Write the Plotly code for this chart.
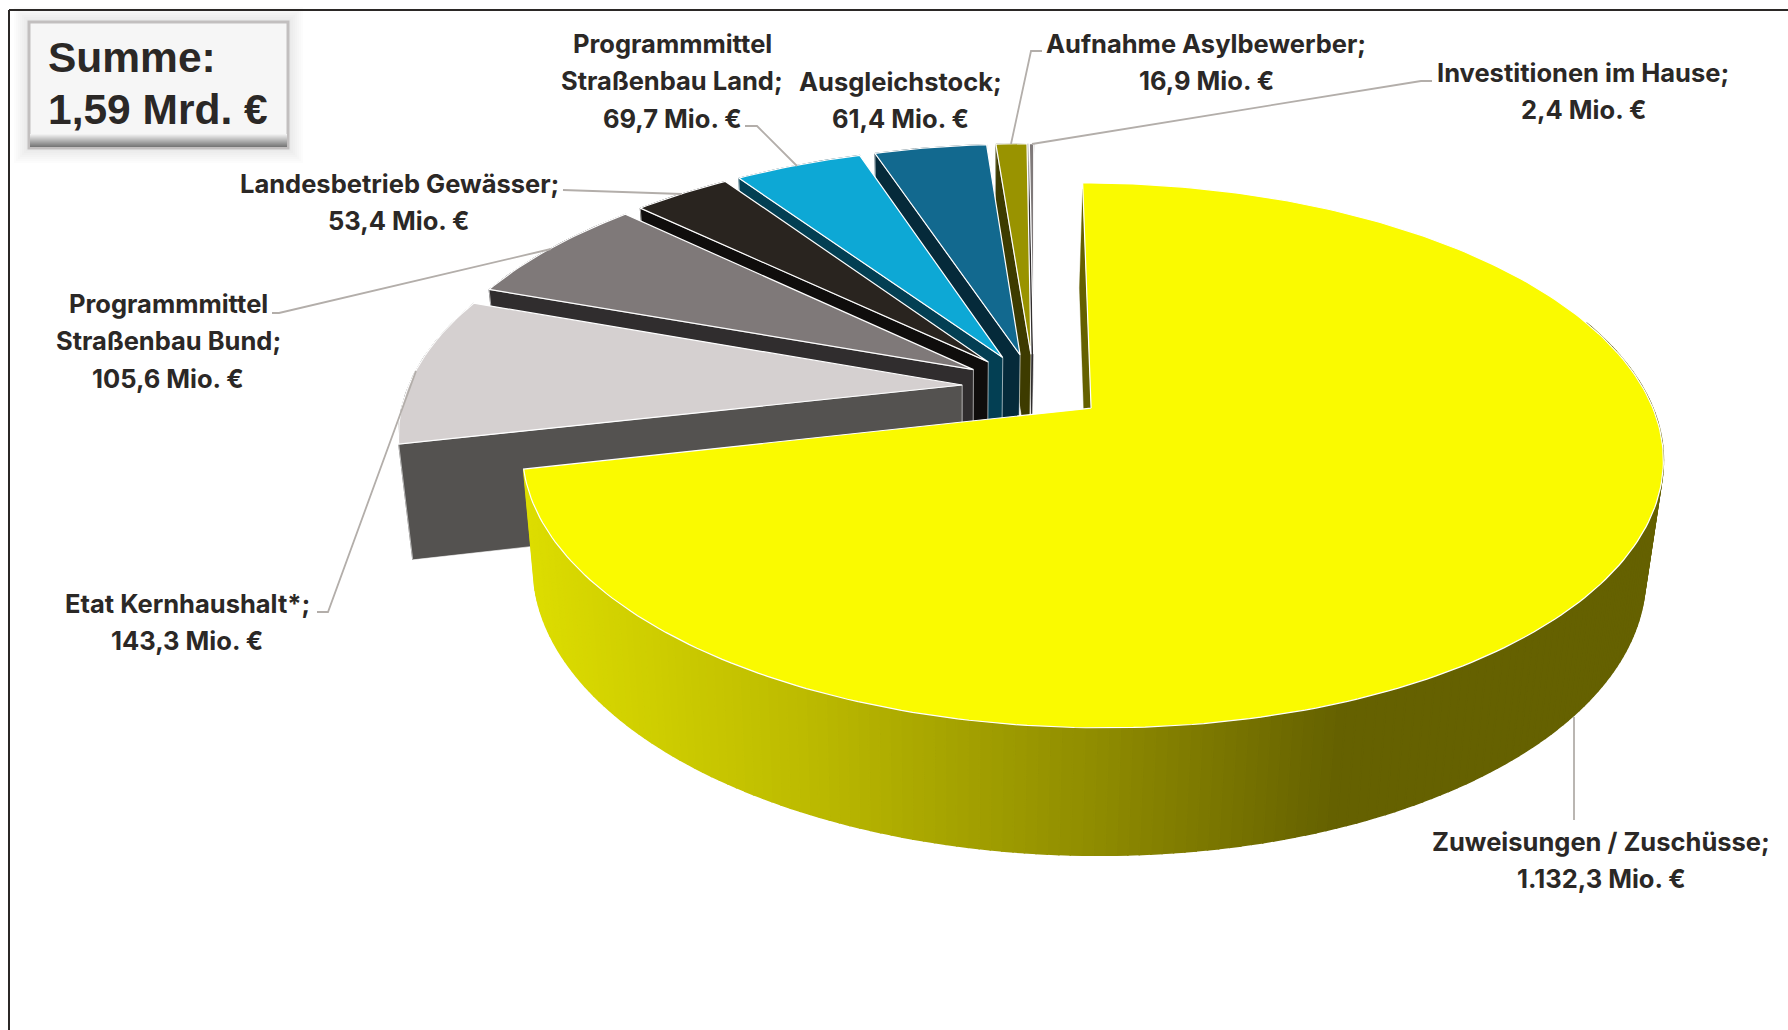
import numpy as np
import plotly.graph_objects as go

# ---- data ----
names = ["Zuweisungen / Zuschüsse", "Etat Kernhaushalt*", "Programmmittel Straßenbau Bund",
         "Landesbetrieb Gewässer", "Programmmittel Straßenbau Land", "Ausgleichstock",
         "Aufnahme Asylbewerber", "Investitionen im Hause"]
values = [1132.3, 143.3, 105.6, 53.4, 69.7, 61.4, 16.9, 2.4]
top_colors = ["#FAFA00", "#D5D0D0", "#7F7979", "#29241F", "#0DA8D5", "#12698F", "#999300", "#7F7979"]
side_colors = ["#646000", "#545250", "#302D2E", "#0F0D0C", "#033F53", "#052A3A", "#3D3B00", "#302D2E"]
label_lines = [["Zuweisungen / Zuschüsse;", "1.132,3 Mio. €"],
               ["Etat Kernhaushalt*;", "143,3 Mio. €"],
               ["Programmmittel", "Straßenbau Bund;", "105,6 Mio. €"],
               ["Landesbetrieb Gewässer;", "53,4 Mio. €"],
               ["Programmmittel", "Straßenbau Land;", "69,7 Mio. €"],
               ["Ausgleichstock;", "61,4 Mio. €"],
               ["Aufnahme Asylbewerber;", "16,9 Mio. €"],
               ["Investitionen im Hause;", "2,4 Mio. €"]]
summary_lines = ["Summe:", "1,59 Mrd. €"]

# ---- layout ----
label_cx = [1601, 187, 168, 399, 672, 900, 1206, 1583]
label_y0 = [841, 603, 303, 183, 43, 81, 43, 72]
line_gap = 37.5
leaders = [([1574, 1574], [717, 820]),
           ([317, 328, 416], [612, 612, 371]),
           ([272, 279, 551], [313, 313, 249]),
           ([563, 682], [190, 194]),
           ([745, 757, 797], [126, 126, 166]),
           ([1042, 1031, 1011], [51, 51, 144]),
           ([1432, 1421, 1032], [81, 81, 144])]

EXPLODE = 0.13
K = 0.171
TOP = dict(cx=1034.0, cy=387.0, a=554.0, b=257.0)
BOT = dict(cx=1032.0, cy=500.4, a=540.0, b=267.6)
TEXT = "#2B2826"
INK = "Inter"
VISIBLE_RIM_FROM = 70.0  # degrees; the rim of the big slice is hidden behind its top before this


def proj(X, Y, p):
    w = 1 - K * Y
    return p["cx"] + p["a"] * X / w, p["cy"] + p["b"] * Y / w


total = sum(values)
edges = np.concatenate([[0], np.cumsum(values)]) / total * 360.0
fig = go.Figure()


def poly(x, y, fill, line=None, lw=1.0):
    fig.add_trace(go.Scatter(x=list(x), y=list(y), mode="lines", fill="toself", fillcolor=fill,
                             line=dict(color=line or fill, width=lw), hoverinfo="skip", showlegend=False))


def slice_geo(i, start=None):
    a0, a1 = edges[i] if start is None else start, edges[i + 1]
    mid = np.radians((edges[i] + edges[i + 1]) / 2)
    ox, oy = EXPLODE * np.sin(mid), -EXPLODE * np.cos(mid)
    th = np.radians(np.linspace(a0, a1, max(3, int(a1 - a0) + 2)))
    return ox, oy, ox + np.sin(th), oy - np.cos(th)


def lerp_side(sx):
    stops_x = [523, 800, 1089, 1340, 1700]
    stops = [(0xDD, 0xDD, 0x00), (0xBD, 0xBB, 0x00), (0x90, 0x8D, 0x00), (0x65, 0x61, 0x00), (0x65, 0x61, 0x00)]
    r, g, b = (np.interp(sx, stops_x, [s[c] for s in stops]) for c in range(3))
    return f"rgb({r:.0f},{g:.0f},{b:.0f})"


# draw back slices first, the big slice last
for i in list(range(len(values) - 1, 0, -1)) + [0]:
    ox, oy, rx, ry = slice_geo(i)
    tx, ty = proj(rx, ry, TOP)
    bx, by = proj(rx, ry, BOT)
    ax, ay = proj(ox, oy, TOP)
    cx, cy = proj(ox, oy, BOT)
    if i == 0:
        _, _, vx, vy = slice_geo(0, VISIBLE_RIM_FROM)
        vtx, vty = proj(vx, vy, TOP)
        vbx, vby = proj(vx, vy, BOT)
        for j in range(len(vx) - 1):
            poly([vtx[j], vtx[j + 1], vbx[j + 1], vbx[j], vtx[j]], [vty[j], vty[j + 1], vby[j + 1], vby[j], vty[j]],
                 lerp_side((vtx[j] + vtx[j + 1]) / 2), lw=1.6)
        poly([ax, tx[0], bx[0], cx, ax], [ay, ty[0] + 6, by[0], cy, ay], side_colors[0], lw=0.3)
    else:
        poly(list(tx) + list(bx[::-1]) + [tx[0]], list(ty) + list(by[::-1]) + [ty[0]], side_colors[i])
        poly([ax, tx[0], bx[0], cx, ax], [ay, ty[0], by[0], cy, ay], side_colors[i], "#FFFFFF", 0.6)
    poly([ax] + list(tx) + [ax], [ay] + list(ty) + [ay], top_colors[i], "#FFFFFF", 1.2)

# leader lines
for lx, ly in leaders:
    fig.add_trace(go.Scatter(x=lx, y=ly, mode="lines", line=dict(color="#B3AEAA", width=1.8),
                             hoverinfo="skip", showlegend=False))

annotations = []
for lines, cx, y0 in zip(label_lines, label_cx, label_y0):
    for n, t in enumerate(lines):
        annotations.append(dict(x=cx, y=y0 + n * line_gap, text=t, showarrow=False, xanchor="center", yanchor="middle",
                                font=dict(family=INK, size=25.5, color=TEXT, weight=700)))
for n, t in enumerate(summary_lines):
    annotations.append(dict(x=46, y=57 + n * 52, text=t, showarrow=False, xanchor="left", yanchor="middle",
                            font=dict(family="Liberation Sans", size=42.5, color=TEXT, weight=700)))

shapes = []
# soft shadow of the sum box
for g in range(14, 0, -2):
    shapes.append(dict(type="rect", x0=28 - g, x1=289 + g, y0=21 - g, y1=149 + g, layer="below",
                       fillcolor="rgba(120,120,120,0.025)", line=dict(width=0)))
shapes.append(dict(type="rect", x0=29, x1=288, y0=22, y1=148, fillcolor="#F6F6F6", layer="below",
                   line=dict(color="#C2BFBF", width=3)))
for s in range(13):
    v = int(240 - s * 10)
    shapes.append(dict(type="rect", x0=30, x1=287, y0=134 + s, y1=135 + s, layer="below",
                       fillcolor=f"rgb({v},{v},{v})", line=dict(width=0)))
# frame
shapes.append(dict(type="line", x0=9, x1=1788, y0=10, y1=10, line=dict(color="#2B2826", width=2)))
shapes.append(dict(type="line", x0=9, x1=9, y0=10, y1=1030, line=dict(color="#2B2826", width=2)))

fig.update_layout(width=1788, height=1030, autosize=False, margin=dict(l=0, r=0, t=0, b=0),
                  paper_bgcolor="white", plot_bgcolor="white", showlegend=False,
                  xaxis=dict(range=[0, 1788], visible=False, fixedrange=True),
                  yaxis=dict(range=[1030, 0], visible=False, fixedrange=True),
                  annotations=annotations, shapes=shapes)
fig.write_html("out.html", config={"displayModeBar": False},
               post_script="document.body.style.margin='0';")
